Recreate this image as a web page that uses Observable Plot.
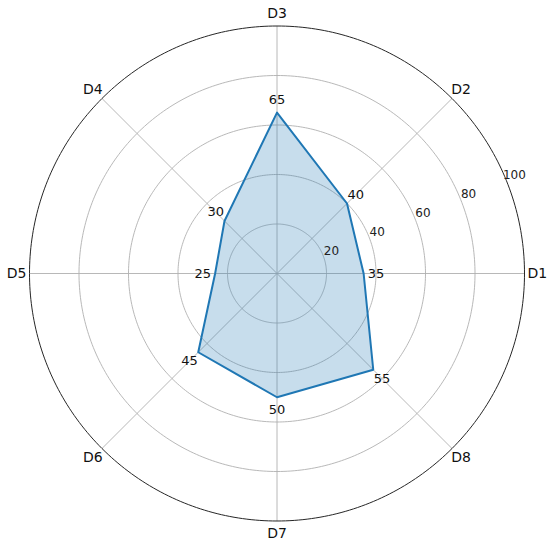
<!DOCTYPE html>
<html>
<head>
<meta charset="utf-8">
<script src="https://cdn.jsdelivr.net/npm/d3@7"></script>
<script src="https://cdn.jsdelivr.net/npm/@observablehq/plot@0.6"></script>
<style>
  html, body { margin: 0; padding: 0; background: #fff; }
  #chart svg { display: block; }
</style>
</head>
<body>
<div id="chart"></div>
<script>
const categories = ["D1", "D2", "D3", "D4", "D5", "D6", "D7", "D8"];
const values = [35, 40, 65, 30, 25, 45, 50, 55];
const ringTicks = [20, 40, 60, 80, 100];
const rMax = 100;

const n = categories.length;
const ang = i => (i * 2 * Math.PI) / n;
const px = (r, a) => r * Math.cos(a);
const py = (r, a) => r * Math.sin(a);

// circle outlines sampled by angle
const circlePts = r => d3.range(0, 361, 1).map(d => ({r, a: d * Math.PI / 180}));
const gridRings = ringTicks.filter(t => t < rMax).flatMap(circlePts);
const outerRing = circlePts(rMax);

const spokes = categories.map((c, i) => ({c, a: ang(i)}));
const poly = values.map((v, i) => ({v, a: ang(i), c: categories[i]}));
const polyClosed = [...poly, poly[0]];

const font = "DejaVu Sans, sans-serif";
const labelA = 22.5 * Math.PI / 180;

const chart = Plot.plot({
  width: 550,
  height: 545,
  marginLeft: 29,
  marginRight: 26,
  marginTop: 25.5,
  marginBottom: 24.5,
  x: {domain: [-rMax, rMax], axis: null},
  y: {domain: [-rMax, rMax], axis: null},
  style: {fontFamily: font, background: "#fff"},
  marks: [
    Plot.line(gridRings, {x: d => px(d.r, d.a), y: d => py(d.r, d.a), z: "r", stroke: "#b0b0b0", strokeWidth: 0.9}),
    Plot.link(spokes, {x1: 0, y1: 0, x2: d => px(rMax, d.a), y2: d => py(rMax, d.a), stroke: "#b0b0b0", strokeWidth: 0.9}),
    Plot.line(polyClosed, {x: d => px(d.v, d.a), y: d => py(d.v, d.a), fill: "#1f77b4", fillOpacity: 0.25, stroke: "#1f77b4", strokeWidth: 2, curve: "linear-closed"}),
    Plot.line(outerRing, {x: d => px(d.r, d.a), y: d => py(d.r, d.a), stroke: "#262626", strokeWidth: 1}),
    Plot.text(ringTicks, {x: d => px(d + 3.8, labelA), y: d => py(d + 3.8, labelA), text: d => String(d), fontSize: 12, fill: "#222", textAnchor: "middle"}),
    Plot.text(spokes, {x: d => px(105.2, d.a), y: d => py(105.2, d.a), text: "c", fontSize: 14, fill: "#111", textAnchor: "middle"}),
    Plot.text(poly, {x: d => px(d.v + 5, d.a), y: d => py(d.v + 5, d.a), text: d => String(d.v), fontSize: 13, fill: "#111", textAnchor: "middle"})
  ]
});
document.getElementById("chart").appendChild(chart);
</script>
</body>
</html>
